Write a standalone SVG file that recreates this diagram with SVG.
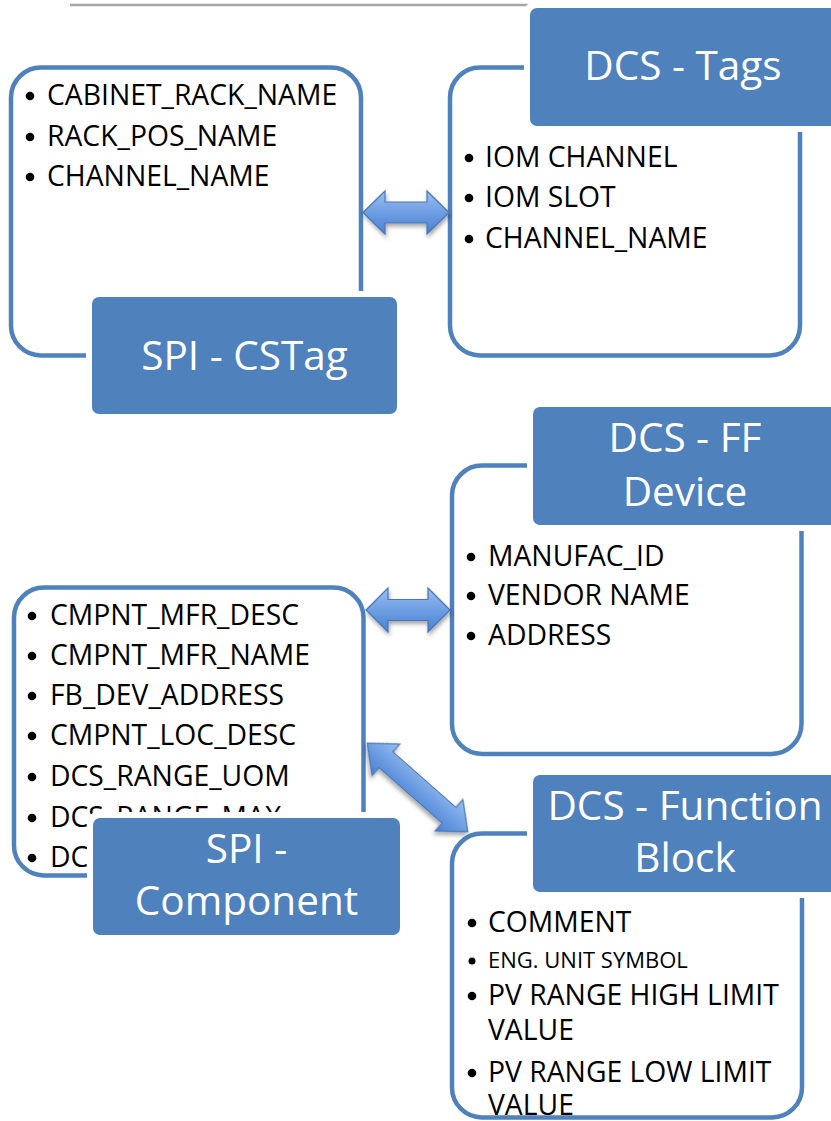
<svg xmlns="http://www.w3.org/2000/svg" width="831" height="1121" viewBox="0 0 831 1121">
<defs>
<style>
.box{fill:#fff;stroke:#4f81bd;stroke-width:4.5}
.lbl{fill:#4f81bd}
.gap{fill:#fff}
.lt{font-family:"Open Sans","Liberation Sans",sans-serif;font-size:40.5px;fill:#fff;text-anchor:middle}
.it{font-family:"Open Sans","Liberation Sans",sans-serif;font-size:28.3px;fill:#000}
.sm{font-size:22px}
.b{fill:#000}
.arr{fill:url(#ag);stroke:#4677b8;stroke-width:1.2;filter:url(#sh)}
</style>
<linearGradient id="ag" x1="0" y1="0" x2="0" y2="1">
<stop offset="0" stop-color="#9cbdf0"/>
<stop offset="0.5" stop-color="#6e9ee3"/>
<stop offset="1" stop-color="#4a80d0"/>
</linearGradient>
<filter id="sh" x="-20%" y="-30%" width="140%" height="170%">
<feDropShadow dx="1" dy="3" stdDeviation="2" flood-color="#000" flood-opacity="0.35"/>
</filter>
</defs>
<rect width="831" height="1121" fill="#fff"/>
<line x1="70" y1="5" x2="831" y2="5" stroke="#a6a6a6" stroke-width="2.5"/>

<g id="spi-cstag">
<rect class="box" x="11" y="67.5" width="350" height="288" rx="30"/>
<circle class="b" cx="30" cy="96" r="4.3"/><text class="it" x="47" y="105">CABINET_RACK_NAME</text>
<circle class="b" cx="30" cy="137" r="4.3"/><text class="it" x="47" y="146">RACK_POS_NAME</text>
<circle class="b" cx="30" cy="177" r="4.3"/><text class="it" x="47" y="186">CHANNEL_NAME</text>
<rect class="gap" x="86" y="291" width="317" height="129" rx="10"/>
<rect class="lbl" x="92" y="297" width="305" height="117" rx="7"/>
<text class="lt" x="244.5" y="370">SPI - CSTag</text>
</g>

<g id="dcs-tags">
<rect class="box" x="450" y="67.5" width="350" height="288" rx="30"/>
<circle class="b" cx="469" cy="158" r="4.3"/><text class="it" x="485" y="167">IOM CHANNEL</text>
<circle class="b" cx="469" cy="198" r="4.3"/><text class="it" x="485" y="207">IOM SLOT</text>
<circle class="b" cx="469" cy="239" r="4.3"/><text class="it" x="485" y="248">CHANNEL_NAME</text>
<rect class="gap" x="524" y="2" width="320" height="130" rx="10"/>
<rect class="lbl" x="530" y="8" width="310" height="118" rx="7"/>
<text class="lt" x="683" y="80">DCS - Tags</text>
</g>

<g id="dcs-ff-device">
<rect class="box" x="452" y="465.5" width="349.5" height="288.5" rx="30"/>
<circle class="b" cx="471" cy="557" r="4.3"/><text class="it" x="488" y="566">MANUFAC_ID</text>
<circle class="b" cx="471" cy="596" r="4.3"/><text class="it" x="488" y="605">VENDOR NAME</text>
<circle class="b" cx="471" cy="636" r="4.3"/><text class="it" x="488" y="645">ADDRESS</text>
<rect class="gap" x="527" y="401" width="320" height="130" rx="10"/>
<rect class="lbl" x="533" y="407" width="310" height="118" rx="7"/>
<text class="lt" x="685" y="452">DCS - FF</text>
<text class="lt" x="685" y="506">Device</text>
</g>

<g id="spi-component">
<rect class="box" x="14" y="587.5" width="349.5" height="288" rx="30"/>
<circle class="b" cx="32" cy="616" r="4.3"/><text class="it" x="50" y="625">CMPNT_MFR_DESC</text>
<circle class="b" cx="32" cy="656" r="4.3"/><text class="it" x="50" y="665">CMPNT_MFR_NAME</text>
<circle class="b" cx="32" cy="696" r="4.3"/><text class="it" x="50" y="705">FB_DEV_ADDRESS</text>
<circle class="b" cx="32" cy="736" r="4.3"/><text class="it" x="50" y="745">CMPNT_LOC_DESC</text>
<circle class="b" cx="32" cy="777" r="4.3"/><text class="it" x="50" y="786">DCS_RANGE_UOM</text>
<circle class="b" cx="32" cy="818" r="4.3"/><text class="it" x="50" y="827">DCS_RANGE_MAX</text>
<circle class="b" cx="32" cy="858" r="4.3"/><text class="it" x="50" y="867">DCS</text>
<rect class="gap" x="87" y="812" width="319" height="129" rx="10"/>
<rect class="lbl" x="93" y="818" width="307" height="117" rx="7"/>
<text class="lt" x="246.5" y="863">SPI -</text>
<text class="lt" x="246.5" y="915">Component</text>
</g>

<g id="dcs-function-block">
<rect class="box" x="452" y="833.5" width="350" height="284" rx="30"/>
<circle class="b" cx="472" cy="923" r="4.3"/><text class="it" x="488" y="932">COMMENT</text>
<circle class="b" cx="472" cy="961" r="3.5"/><text class="it sm" x="488" y="968">ENG. UNIT SYMBOL</text>
<circle class="b" cx="472" cy="996" r="4.3"/><text class="it" x="488" y="1005">PV RANGE HIGH LIMIT</text>
<text class="it" x="488" y="1040">VALUE</text>
<circle class="b" cx="472" cy="1073" r="4.3"/><text class="it" x="488" y="1082">PV RANGE LOW LIMIT</text>
<text class="it" x="488" y="1115">VALUE</text>
<rect class="gap" x="527" y="769" width="320" height="129" rx="10"/>
<rect class="lbl" x="533" y="775" width="310" height="117" rx="7"/>
<text class="lt" x="685" y="820">DCS - Function</text>
<text class="lt" x="685" y="872">Block</text>
</g>

<g id="connectors">
<polygon class="arr" points="363,212.5 385,191 385,202 427,202 427,191 449,212.5 427,234 427,223 385,223 385,234"/>
<polygon class="arr" points="366,610 388,588 388,599.5 428,599.5 428,588 450,610 428,632 428,620.5 388,620.5 388,632"/>
<g transform="translate(417.5,787.5) rotate(41.4)">
<polygon class="arr" points="-67,0 -42,-21 -42,-10.5 42,-10.5 42,-21 67,0 42,21 42,10.5 -42,10.5 -42,21"/>
</g>
</g>
</svg>
